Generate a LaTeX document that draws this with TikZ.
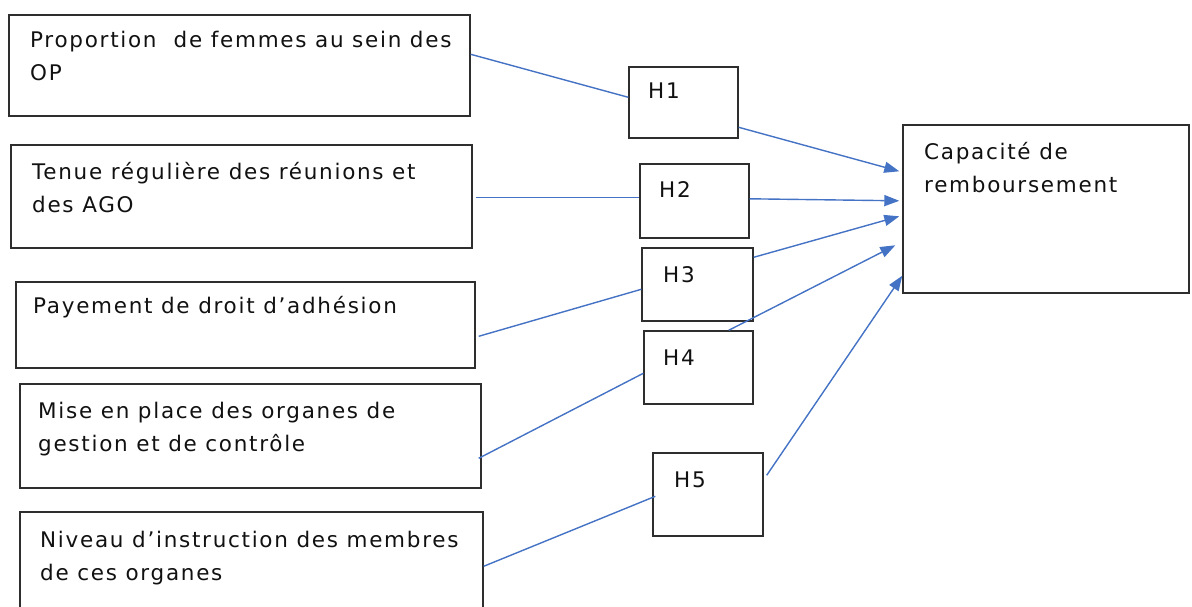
\documentclass[tikz,border=0pt]{standalone}
\usepackage{fontspec}
\setmainfont{DejaVu Sans}[LetterSpace=8]
\usetikzlibrary{arrows.meta,calc}
\definecolor{linkblue}{HTML}{4472C4}
\definecolor{boxgray}{HTML}{2E2E2E}
\definecolor{txt}{HTML}{111111}
\begin{document}
\begin{tikzpicture}[x=1pt,y=-1pt,
  box/.style={draw=boxgray,line width=1.4pt,inner sep=0pt,fill=none},
  lbl/.style={anchor=base west,inner sep=0pt,align=left,text=txt,
    font=\fontsize{21.5}{33}\selectfont},
  link/.style={draw=linkblue,line width=1.4pt},
  arr/.style={link,-{Triangle[length=15pt,width=11pt]}}]
\useasboundingbox (0,0) rectangle (1192,607);
\begin{scope}
\clip (0,0) rectangle (1192,607);
% left boxes
\node[box,minimum width=461,minimum height=101] (p1) at (239.5,65.5) {};
\node[box,minimum width=461,minimum height=103] (p2) at (241.5,196.5) {};
\node[box,minimum width=459,minimum height=86]  (p3) at (245.5,325) {};
\node[box,minimum width=461,minimum height=104] (p4) at (250.5,436) {};
\node[box,minimum width=463,minimum height=110] (p5) at (251.5,567) {};
% H boxes
\node[box,minimum width=109,minimum height=71] (h1) at (683.5,102.5) {};
\node[box,minimum width=109,minimum height=74] (h2) at (694.5,201) {};
\node[box,minimum width=111,minimum height=73] (h3) at (697.5,284.5) {};
\node[box,minimum width=109,minimum height=73] (h4) at (698.5,367.5) {};
\node[box,minimum width=110,minimum height=83] (h5) at (708,494.5) {};
% result box
\node[box,minimum width=286,minimum height=168] (cap) at (1046,209) {};
\end{scope}
% texts (base = baseline of the last line)
\node[lbl] (t1) at (30,81) {Proportion\ \ de femmes au sein des\\OP};
\node[lbl] (t2) at (32,212) {Tenue régulière des réunions et\\des AGO};
\node[lbl] (t3) at (33,313) {Payement de droit d’adhésion};
\node[lbl] (t4) at (38,451) {Mise en place des organes de\\gestion et de contrôle};
\node[lbl] (t5) at (40,580) {Niveau d’instruction des membres\\de ces organes};
\node[lbl] (tc) at (924,193) {Capacité de\\remboursement};
\node[lbl] (l1) at (648,99) {H1};
\node[lbl] (l2) at (659,197) {H2};
\node[lbl] (l3) at (663,282) {H3};
\node[lbl] (l4) at (663,365) {H4};
\node[lbl] (l5) at (674,487) {H5};
% connectors
\draw[link] ($(p1.north east)+(0,40)$) -- ($(h1.north west)+(0,31)$);
\draw[arr]  ($(h1.north east)+(0,61)$) -- ($(cap.north west)+(-3,47)$);
\draw[link] ($(p2.north east)+(3,53.5)$) -- ($(h2.north west)+(0,34.5)$);
\draw[arr]  ($(h2.north east)+(0,35.5)$) -- ($(cap.north west)+(-3,76.5)$);
\draw[link] ($(p3.north east)+(3,55)$) -- ($(h3.north west)+(0,42)$);
\draw[arr]  ($(h3.north east)+(0,10)$) -- ($(cap.north west)+(-3,92)$);
\draw[link] ($(p4.north east)+(-3,75)$) -- ($(h4.north west)+(0,43)$);
\draw[arr]  ($(h4.north east)+(-25,0)$) -- ($(cap.north west)+(-7,121)$);
\draw[link] ($(p5.north east)+(0,55)$) -- ($(h5.north west)+(3,44)$);
\draw[arr]  ($(h5.north east)+(3,23)$) -- ($(cap.south west)+(0,-18)$);
\end{tikzpicture}
\end{document}
